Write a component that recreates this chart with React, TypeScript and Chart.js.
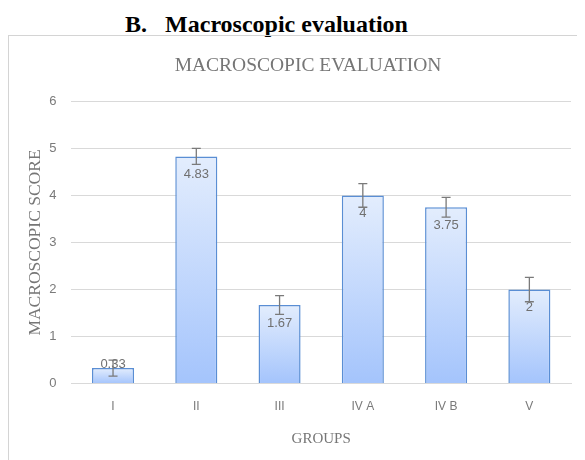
import React, { useEffect, useRef } from "react";
import { Chart, registerables } from "chart.js";

Chart.register(...registerables);

const categories = ["I", "II", "III", "IV A", "IV B", "V"];
const scores = [0.33, 4.83, 1.67, 4, 3.75, 2];
const errors = [0.17, 0.17, 0.2, 0.25, 0.21, 0.26];
const yTicks = [0, 1, 2, 3, 4, 5, 6];

const errorAndLabelPlugin = {
  id: "errorAndLabel",
  afterDatasetsDraw(chart: any) {
    const meta = chart.getDatasetMeta(0);
    const y = chart.scales.y;
    const c = chart.ctx;
    c.save();
    meta.data.forEach((bar: any, i: number) => {
      const v = scores[i];
      const top = y.getPixelForValue(v);
      const base = y.getPixelForValue(0);
      const cy = Math.min(top + 18, base - 19);
      c.fillStyle = "#707070";
      c.font = "13px 'Liberation Sans', Arial, sans-serif";
      c.textAlign = "center";
      c.textBaseline = "middle";
      c.fillText(String(v), bar.x, cy);
    });
    meta.data.forEach((bar: any, i: number) => {
      const v = scores[i];
      const e = errors[i];
      const yt = y.getPixelForValue(v + e);
      const yb = y.getPixelForValue(v - e);
      c.strokeStyle = "#7a7a7a";
      c.lineWidth = 1.3;
      c.beginPath();
      c.moveTo(bar.x, yt);
      c.lineTo(bar.x, yb);
      c.moveTo(bar.x - 4.5, yt);
      c.lineTo(bar.x + 4.5, yt);
      c.moveTo(bar.x - 4.5, yb);
      c.lineTo(bar.x + 4.5, yb);
      c.stroke();
    });
    c.restore();
  },
};

export default function App() {
  const ref = useRef<HTMLCanvasElement | null>(null);

  useEffect(() => {
    if (!ref.current) return;
    const chart = new Chart(ref.current, {
      type: "bar",
      data: {
        labels: categories,
        datasets: [
          {
            data: scores,
            backgroundColor: (ctx: any) => {
              const ch = ctx.chart;
              if (!ch.chartArea || ctx.type !== "data") return "#c4d8f8";
              const ys = ch.scales.y;
              const top = ys.getPixelForValue(ctx.raw);
              const base = ys.getPixelForValue(0);
              const g = ch.ctx.createLinearGradient(0, top, 0, base);
              g.addColorStop(0, "#e3edfd");
              g.addColorStop(1, "#a4c4fc");
              return g;
            },
            borderColor: "#5a8ed4",
            borderWidth: 1.5,
            categoryPercentage: 1,
            barPercentage: 0.505,
          },
        ],
      },
      options: {
        animation: false,
        responsive: false,
        maintainAspectRatio: false,
        layout: { padding: { left: 36, right: 36, top: 0, bottom: 12 } },
        plugins: {
          legend: { display: false },
          tooltip: { enabled: false },
          title: {
            display: true,
            text: "MACROSCOPIC EVALUATION",
            color: "#767676",
            font: { family: "'Liberation Serif', 'Times New Roman', serif", size: 19.5, weight: "normal" },
            padding: { top: 18, bottom: 24 },
          },
        },
        scales: {
          x: {
            grid: { display: false },
            border: { display: true, color: "#d9d9d9" },
            ticks: {
              color: "#7a7a7a",
              padding: 8,
              font: { family: "'Liberation Sans', Arial, sans-serif", size: 12 },
            },
            title: {
              display: true,
              text: "GROUPS",
              color: "#767676",
              font: { family: "'Liberation Serif', 'Times New Roman', serif", size: 15 },
              padding: { top: 8, bottom: 0 },
            },
          },
          y: {
            min: 0,
            max: 6,
            afterBuildTicks: (axis: any) => {
              axis.ticks = yTicks.map((v) => ({ value: v }));
            },
            afterFit: (axis: any) => {
              axis.width = 26.4;
            },
            grid: { color: "#d9d9d9", drawTicks: false },
            border: { display: false },
            ticks: {
              color: "#7a7a7a",
              padding: 15,
              font: { family: "'Liberation Sans', Arial, sans-serif", size: 13 },
            },
            title: {
              display: true,
              text: "MACROSCOPIC SCORE",
              color: "#767676",
              font: { family: "'Liberation Serif', 'Times New Roman', serif", size: 17.5 },
              padding: { top: -20.5, bottom: 0 },
            },
          },
        },
      },
      plugins: [errorAndLabelPlugin],
    });
    return () => chart.destroy();
  }, []);

  return (
    <div style={{ position: "relative", width: 577, height: 452, overflow: "hidden" }}>
      <div
        style={{
          position: "absolute",
          left: 0,
          right: 0,
          top: 2,
          textAlign: "center",
          fontFamily: "'Liberation Serif', 'Times New Roman', serif",
          fontWeight: "bold",
          fontSize: 24,
          lineHeight: "28px",
          color: "#000",
          paddingRight: 60,
        }}
      >
        B.<span style={{ display: "inline-block", width: 18 }}></span>Macroscopic evaluation
      </div>
      <div
        style={{
          position: "absolute",
          left: 0,
          top: 27,
          width: 600,
          height: 425,
          borderTop: "1px solid #d4d4d4",
          borderLeft: "1px solid #d4d4d4",
          boxSizing: "border-box",
        }}
      >
        <canvas ref={ref} width={598} height={424} style={{ display: "block" }} />
      </div>
    </div>
  );
}
